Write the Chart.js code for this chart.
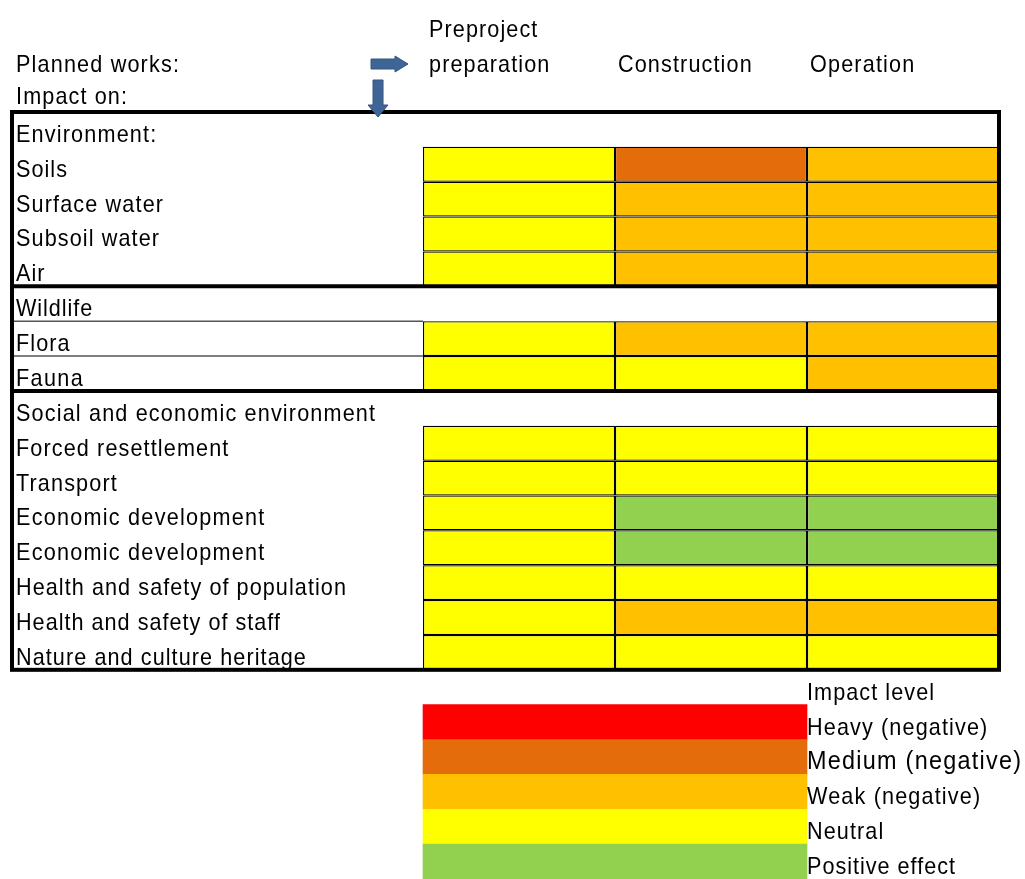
<!DOCTYPE html>
<html>
<head>
<meta charset="utf-8">
<script src="https://cdn.jsdelivr.net/npm/chart.js@4.4.1/dist/chart.umd.min.js"></script>
<style>
  html, body { margin: 0; padding: 0; background: #fff; }
  #wrap { position: relative; width: 1025px; height: 879px; }
</style>
</head>
<body>
<div id="wrap"><canvas id="impact-chart" width="1025" height="879"></canvas></div>
<script>
// phases of the planned works (columns)
const phases = [["Preproject", "preparation"], ["Construction"], ["Operation"]];

// impact rows; section headers have no cells
const rowLabels = [
  "Environment:", "Soils", "Surface water", "Subsoil water", "Air",
  "Wildlife", "Flora", "Fauna",
  "Social and economic environment", "Forced resettlement", "Transport",
  "Economic development", "Economic development",
  "Health and safety of population", "Health and safety of staff",
  "Nature and culture heritage"
];

// impact level per row: 0 positive, 1 neutral, 2 weak, 3 medium, 4 heavy (null = section header)
const preproject   = [null, 1, 1, 1, 1, null, 1, 1, null, 1, 1, 1, 1, 1, 1, 1];
const construction = [null, 3, 2, 2, 2, null, 2, 1, null, 1, 1, 0, 0, 1, 2, 1];
const operation    = [null, 2, 2, 2, 2, null, 2, 2, null, 1, 1, 0, 0, 1, 2, 1];

const levelNames  = ["Positive effect", "Neutral", "Weak (negative)", "Medium (negative)", "Heavy (negative)"];
const levelColors = ["#92D050", "#FFFF00", "#FFC000", "#E46C0A", "#FF0000"];
const legendOrder = [4, 3, 2, 1, 0];
const legendTitle = "Impact level";

const NROWS = rowLabels.length;
const allLabels = rowLabels.concat([legendTitle], legendOrder.map((l) => levelNames[l]));
const pad = (arr) => arr.concat(new Array(allLabels.length - arr.length).fill(null));

const phaseData = [preproject, construction, operation];

const datasets = phaseData.map((levels, p) => ({
  label: phases[p].join(" "),
  data: pad(levels.map((lv) => (lv === null ? null : [p, p + 1]))),
  backgroundColor: pad(levels.map((lv) => (lv === null ? "transparent" : levelColors[lv]))),
  borderColor: "#000",
  borderWidth: 1.25,
  borderSkipped: false,
  inflateAmount: 0,
}));

// colour key under the table, sharing the same row grid
const keyData = new Array(NROWS + 1).fill(null).concat(legendOrder.map(() => [0, 2]));
const keyColors = new Array(NROWS + 1).fill("transparent").concat(legendOrder.map((l) => levelColors[l]));
datasets.push({
  label: legendTitle,
  data: keyData,
  backgroundColor: keyColors,
  borderWidth: 0,
});

const FONT = '"Liberation Sans", Arial, sans-serif';
const SQUEEZE = 0.9;

// condensed glyphs, spaced out to the advance of the regular face
function drawLabel(ctx, str, x, y, size) {
  ctx.save();
  ctx.font = size + "px " + FONT;
  ctx.letterSpacing = "0px";
  const w = ctx.measureText(str).width;
  const ls = (w / SQUEEZE - w) / str.length;
  ctx.translate(x, y);
  ctx.scale(SQUEEZE, 1);
  ctx.letterSpacing = ls.toFixed(2) + "px";
  ctx.fillText(str, 0, 0);
  ctx.restore();
}

const tableFrame = {
  id: "tableFrame",
  afterDatasetsDraw(chart) {
    const { ctx, chartArea, scales } = chart;
    const y = scales.y;
    const x = scales.x;
    const band = y.getPixelForValue(1) - y.getPixelForValue(0);
    const rowTop = (i) => y.getPixelForValue(i) - band / 2;
    const left = chartArea.left + 1;
    const right = chartArea.right;

    ctx.save();
    // thin separators between the wildlife rows
    ctx.strokeStyle = "#555";
    ctx.lineWidth = 1.5;
    [6, 7].forEach((r) => {
      ctx.beginPath();
      ctx.moveTo(left, rowTop(r));
      ctx.lineTo(x.getPixelForValue(0), rowTop(r));
      ctx.stroke();
    });
    // section dividers
    ctx.strokeStyle = "#000";
    ctx.lineWidth = 4;
    [5, 8].forEach((r) => {
      ctx.beginPath();
      ctx.moveTo(left, rowTop(r));
      ctx.lineTo(right, rowTop(r));
      ctx.stroke();
    });
    // outer border of the table
    ctx.strokeRect(left, rowTop(0), right - left, rowTop(NROWS) - rowTop(0));

    // arrows from the headings
    const ax = x.getPixelForValue(0);
    const ay = rowTop(0);
    ctx.fillStyle = "#3F6596";
    ctx.strokeStyle = "#35557F";
    ctx.lineWidth = 1;
    ctx.beginPath();
    ctx.moveTo(ax - 52, ay - 53);
    ctx.lineTo(ax - 28, ay - 53);
    ctx.lineTo(ax - 28, ay - 56);
    ctx.lineTo(ax - 15, ay - 48);
    ctx.lineTo(ax - 28, ay - 40);
    ctx.lineTo(ax - 28, ay - 43);
    ctx.lineTo(ax - 52, ay - 43);
    ctx.closePath();
    ctx.fill();
    ctx.stroke();
    ctx.beginPath();
    ctx.moveTo(ax - 50, ay - 32);
    ctx.lineTo(ax - 40, ay - 32);
    ctx.lineTo(ax - 40, ay - 7);
    ctx.lineTo(ax - 35, ay - 7);
    ctx.lineTo(ax - 45, ay + 5);
    ctx.lineTo(ax - 55, ay - 7);
    ctx.lineTo(ax - 50, ay - 7);
    ctx.closePath();
    ctx.fill();
    ctx.stroke();
    ctx.restore();
  },
  afterDraw(chart) {
    const { ctx, chartArea, scales } = chart;
    const y = scales.y;
    const x = scales.x;
    const band = y.getPixelForValue(1) - y.getPixelForValue(0);
    const rowBottom = (i) => y.getPixelForValue(i) + band / 2;
    const tx = chartArea.left + 5;

    ctx.save();
    ctx.fillStyle = "#000";
    ctx.textAlign = "left";
    ctx.textBaseline = "alphabetic";

    // headings above the grid
    drawLabel(ctx, "Planned works:", tx, rowBottom(-2) - 5.5, 24);
    drawLabel(ctx, "Impact on:", tx, rowBottom(-1) - 8.5, 24);
    phases.forEach((lines, p) => {
      const px = x.getPixelForValue(p) + (p === 0 ? 6 : 3);
      lines.forEach((line, k) => {
        const row = -1 - lines.length + k;
        drawLabel(ctx, line, px, rowBottom(row) - 5.5, 24);
      });
    });

    // row labels
    rowLabels.forEach((label, i) => {
      drawLabel(ctx, label, tx, rowBottom(i) - 5, 24);
    });

    // colour key labels
    const kx = x.getPixelForValue(2);
    drawLabel(ctx, legendTitle, kx, rowBottom(NROWS) - 5, 24);
    legendOrder.forEach((l, k) => {
      const size = l === 3 ? 26 : 24;
      drawLabel(ctx, levelNames[l], kx, rowBottom(NROWS + 1 + k) - 5, size);
    });
    ctx.restore();
  },
};

new Chart(document.getElementById("impact-chart"), {
  type: "bar",
  data: { labels: allLabels, datasets: datasets },
  options: {
    indexAxis: "y",
    responsive: false,
    animation: false,
    layout: { padding: { left: 11, right: 26, top: 112, bottom: 0 } },
    datasets: {
      bar: { grouped: false, barPercentage: 1, categoryPercentage: 1 },
    },
    scales: {
      x: { type: "linear", min: -2.146, max: 3, display: false },
      y: { type: "category", display: false, offset: true },
    },
    plugins: {
      legend: { display: false },
      tooltip: { enabled: false },
    },
  },
  plugins: [tableFrame],
});
</script>
</body>
</html>
